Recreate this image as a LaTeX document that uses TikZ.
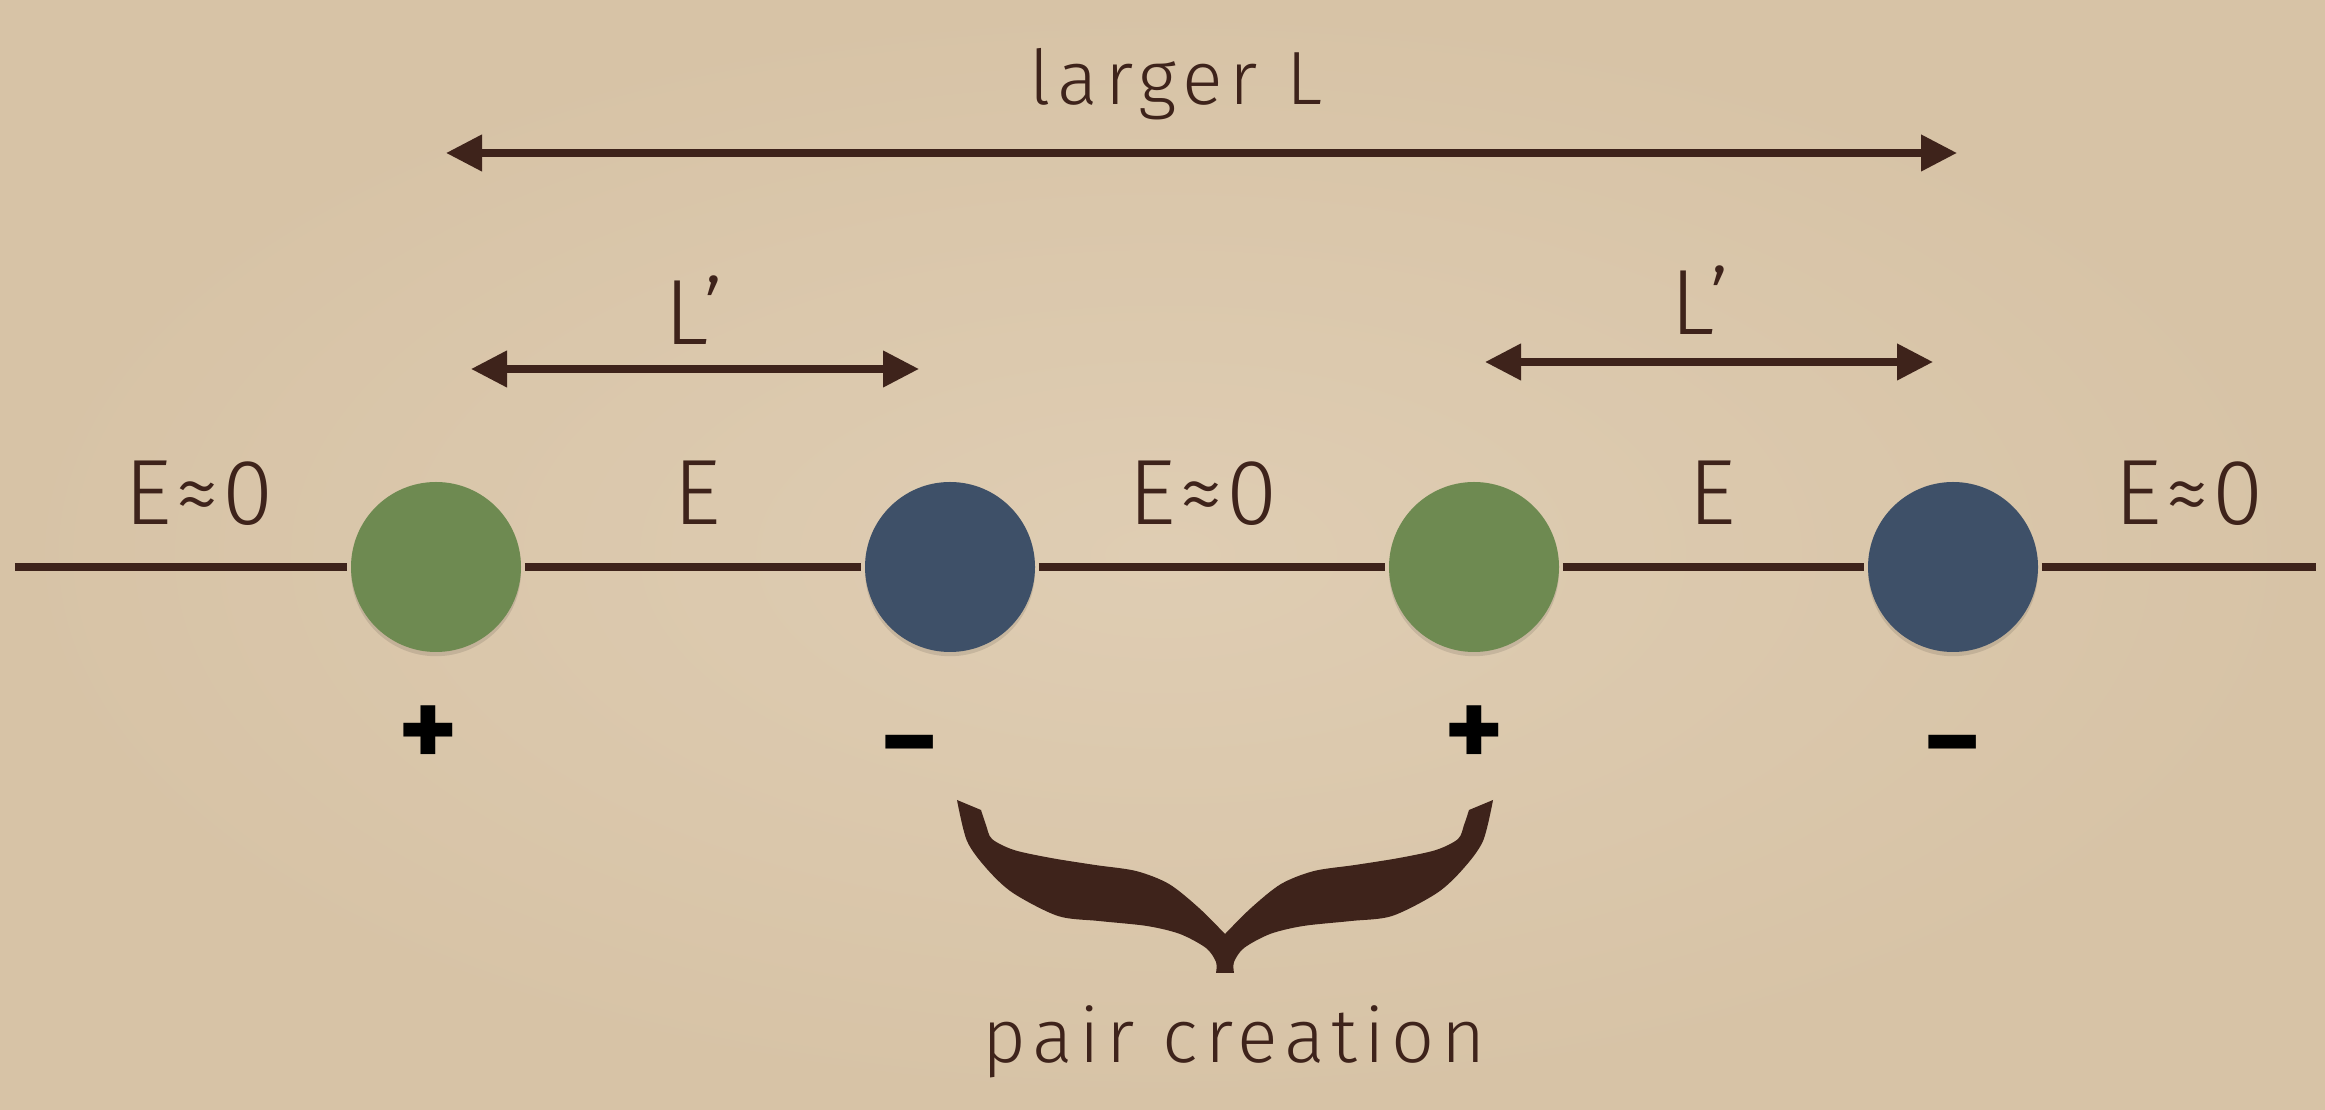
\documentclass[tikz,border=0pt]{standalone}
\usepackage{fontspec}
\setmainfont{Fira Sans}
\newfontfamily\thinfont{Fira Sans Light}
\usetikzlibrary{arrows.meta, positioning, shadows}

\definecolor{parchlight}{HTML}{DFCDB3}
\definecolor{parchdark}{HTML}{D7C3A6}
\definecolor{ink}{HTML}{3E231B}
\definecolor{chgreen}{HTML}{6E8A51}
\definecolor{chblue}{HTML}{3E5068}

\begin{document}
\begin{tikzpicture}[
        line width=2.2pt,
        charge/.style={circle, minimum size=1.7cm, inner sep=0pt,
            drop shadow={shadow xshift=0pt, shadow yshift=-1.2pt, opacity=0.1, fill=black}},
        poscharge/.style={charge, fill=chgreen},
        negcharge/.style={charge, fill=chblue},
        elabel/.style={text=ink, font=\thinfont\fontsize{26.4}{30}\selectfont\addfontfeature{LetterSpace=4}, inner sep=0pt, anchor=base},
        caption/.style={text=ink, font=\thinfont\fontsize{21.5}{26}\selectfont\addfontfeature{LetterSpace=9}, inner sep=0pt, anchor=base},
        chargesign/.style={text=black, font=\bfseries\fontsize{32}{36}\selectfont, inner sep=0pt},
        spanarrow/.style={{Triangle[length=3.6mm,width=3.5mm]}-{Triangle[length=3.6mm,width=3.5mm]}, draw=ink, line width=2.1pt},
        wire/.style={draw=ink, line width=2.3pt}
    ]
    \useasboundingbox (0,0) rectangle (23.25,11.09);
    \shade[inner color=parchlight, outer color=parchdark] (0,0) rectangle (23.25,11.09);

    % charges on the line
    \coordinate (wl) at (0.15,5.42);
    \coordinate (wr) at (23.16,5.42);
    \node[poscharge] (g1) at (4.36,5.42) {};
    \node[negcharge] (b1) at (9.50,5.42) {};
    \node[poscharge] (g2) at (14.74,5.42) {};
    \node[negcharge] (b2) at (19.53,5.42) {};
    \draw[wire] (wl) -- (g1) -- (b1) -- (g2) -- (b2) -- (wr);

    \node[elabel] (e1) at (1.99,5.84) {E≈0};
    \node[elabel] (e2) at (6.97,5.84) {E};
    \node[elabel] (e3) at (12.03,5.84) {E≈0};
    \node[elabel] (e4) at (17.12,5.84) {E};
    \node[elabel] (e5) at (21.89,5.84) {E≈0};

    \node[chargesign] (s1) at (4.28,3.72) {+};
    \node[chargesign] (s2) at (9.10,3.52) {−};
    \node[chargesign] (s3) at (14.74,3.72) {+};
    \node[chargesign] (s4) at (19.53,3.52) {−};

    % lengths
    \coordinate (bigl) at (4.46,9.56);
    \coordinate (bigr) at (19.57,9.56);
    \draw[spanarrow] (bigl) -- (bigr);
    \node[caption] (biglbl) at (11.76,10.04) {larger L};

    \coordinate (l1a) at (4.71,7.40);
    \coordinate (l1b) at (9.19,7.40);
    \draw[spanarrow] (l1a) -- (l1b);
    \node[elabel] (l1lbl) at (6.94,7.64) {L’};

    \coordinate (l2a) at (14.85,7.47);
    \coordinate (l2b) at (19.33,7.47);
    \draw[spanarrow] (l2a) -- (l2b);
    \node[elabel] (l2lbl) at (17.00,7.74) {L’};

    % brace
    \begin{scope}[shift={(12.25,0)}]
        \foreach \s in {1,-1}
            \fill[ink, xscale=\s] plot[smooth] coordinates {(-2.68,3.09) (-2.58,2.68) (-2.38,2.40) (-2.12,2.16) (-1.67,1.93) (-1.26,1.88) (-0.78,1.83) (-0.45,1.75) (-0.19,1.61) (-0.09,1.47) (-0.09,1.36)}
                -- (0,1.36) -- (0,1.75)
                -- plot[smooth] coordinates {(0,1.75) (-0.26,2.01) (-0.56,2.25) (-0.89,2.38) (-1.30,2.44) (-1.74,2.51) (-2.11,2.59) (-2.33,2.70) (-2.39,2.84) (-2.44,2.99)}
                -- cycle;
    \end{scope}
    \node[caption] (pc) at (12.34,0.46) {pair creation};
\end{tikzpicture}
\end{document}
